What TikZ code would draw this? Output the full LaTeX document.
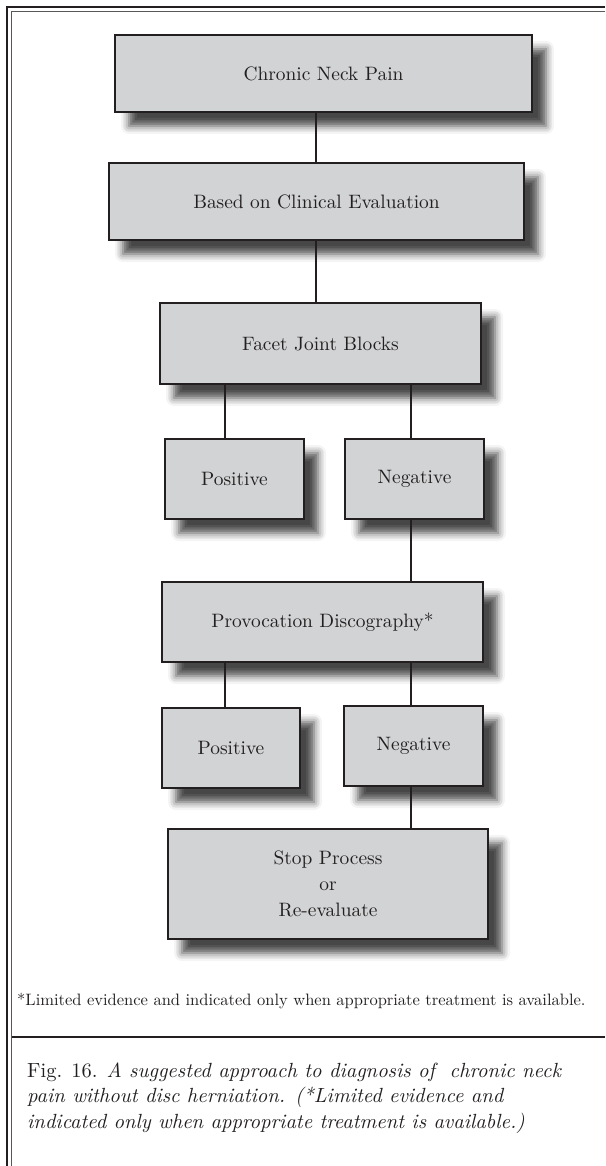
\documentclass[tikz,border=0pt]{standalone}
\usepackage{fontspec}
\setmainfont{lmroman10-regular.otf}[ItalicFont=lmroman10-italic.otf, BoldFont=lmroman10-bold.otf]
\usetikzlibrary{shadows.blur}
\definecolor{boxgray}{HTML}{D1D3D4}
\definecolor{ink}{HTML}{231F20}
\begin{document}
\begin{tikzpicture}[x=1pt,y=-1pt,
  fbox/.style={draw=ink, line width=2pt, fill=boxgray, text=ink, inner sep=0pt,
    align=center, font=\fontsize{19.4}{26}\selectfont,
    blur shadow={shadow xshift=14pt, shadow yshift=-14pt, shadow blur radius=8pt, shadow opacity=72}},
  conn/.style={draw=ink, line width=2pt},
  frameline/.style={draw=ink, line width=1.6pt}]
\useasboundingbox (0,0) rectangle (605,1166);
% frame
\draw[frameline] (7,1166) -- (7,7) -- (605,7);
\draw[draw=ink!75, line width=1pt] (11.5,1166) -- (11.5,12) -- (605,12);
\draw[draw=ink, line width=2.2pt] (11.5,1037) -- (605,1037);
% connector x positions
\coordinate (cA) at (316,0);
\coordinate (cL) at (224.5,0);
\coordinate (cR) at (411,0);
% boxes
\node[fbox, minimum width=417pt, minimum height=77pt] (pain) at (323.5,73.5) {Chronic Neck Pain};
\node[fbox, minimum width=415pt, minimum height=77pt] (clin) at (316.5,201.5) {Based on Clinical Evaluation};
\node[fbox, minimum width=321pt, minimum height=81pt] (facet) at (320.5,343.5) {Facet Joint Blocks};
\node[fbox, minimum width=139pt, minimum height=80pt] (pos1) at (234.5,479) {Positive};
\node[fbox, minimum width=139pt, minimum height=80pt] (neg1) at (414.5,479) {Negative};
\node[fbox, minimum width=321pt, minimum height=80pt] (prov) at (322.5,622) {Provocation Discography*};
\node[fbox, minimum width=138pt, minimum height=80pt] (pos2) at (231,748) {Positive};
\node[fbox, minimum width=139pt, minimum height=80pt] (neg2) at (413.5,746) {Negative};
\node[fbox, minimum width=320pt, minimum height=110pt] (stop) at (328,884) {Stop Process\\or\\Re-evaluate};
% connectors
\draw[conn] (pain.south -| cA) -- (clin.north -| cA);
\draw[conn] (clin.south -| cA) -- (facet.north -| cA);
\draw[conn] (facet.south -| cL) -- (pos1.north -| cL);
\draw[conn] (facet.south -| cR) -- (neg1.north -| cR);
\draw[conn] (neg1.south -| cR) -- (prov.north -| cR);
\draw[conn] (prov.south -| cL) -- (pos2.north -| cL);
\draw[conn] (prov.south -| cR) -- (neg2.north -| cR);
\draw[conn] (neg2.south -| cR) -- (stop.north -| cR);
% footnote and caption
\node[anchor=base west, inner sep=0pt, text=ink, font=\fontsize{16.5}{19}\selectfont] (foot) at (17,1005)
  {*Limited evidence and indicated only when appropriate treatment is available.};
\node[anchor=base west, inner sep=0pt, text=ink, align=left, font=\fontsize{20.5}{25.5}\selectfont] (cap) at (27,1128)
  {Fig. 16. \textit{A suggested approach to diagnosis of\ \ chronic neck}\\
   \textit{pain without disc herniation. (*Limited evidence and}\\
   \textit{indicated only when appropriate treatment is available.)}};
\end{tikzpicture}
\end{document}
